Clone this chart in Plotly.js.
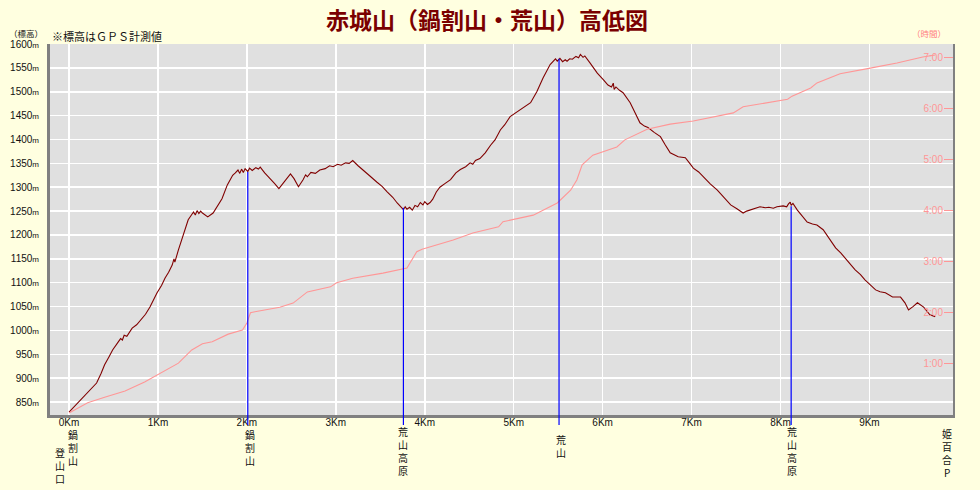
<!DOCTYPE html>
<html><head><meta charset="utf-8">
<script src="https://cdn.plot.ly/plotly-3.0.1.min.js"></script>
<style>html,body{margin:0;padding:0;background:#FFFFE0;} #chart{width:980px;height:490px;}</style>
</head><body><div id="chart"></div>
<script>
// elevation profile (distance km, elevation m)
const distKm = [
0.00,0.10,0.20,0.31,0.36,0.40,0.45,0.49,0.55,0.58,
0.60,0.62,0.65,0.68,0.71,0.76,0.82,0.86,0.91,0.99,
1.04,1.08,1.12,1.16,1.18,1.19,1.23,1.28,1.34,1.38,
1.40,1.42,1.44,1.46,1.48,1.50,1.56,1.62,1.66,1.72,
1.78,1.84,1.87,1.90,1.92,1.94,1.96,1.98,2.01,2.03,
2.06,2.10,2.13,2.15,2.20,2.26,2.31,2.36,2.42,2.49,
2.53,2.58,2.63,2.66,2.68,2.72,2.77,2.82,2.88,2.93,
2.97,3.02,3.06,3.11,3.15,3.19,3.25,3.31,3.38,3.46,
3.52,3.58,3.64,3.69,3.73,3.76,3.78,3.80,3.83,3.86,
3.89,3.92,3.95,3.98,4.00,4.03,4.06,4.09,4.13,4.17,
4.23,4.29,4.35,4.40,4.46,4.51,4.54,4.57,4.62,4.65,
4.68,4.74,4.79,4.85,4.90,4.96,5.07,5.13,5.19,5.26,
5.33,5.41,5.45,5.47,5.49,5.52,5.55,5.58,5.60,5.63,
5.66,5.70,5.73,5.75,5.78,5.80,5.86,5.94,6.01,6.06,
6.10,6.12,6.13,6.15,6.19,6.23,6.31,6.36,6.42,6.47,
6.51,6.58,6.65,6.70,6.76,6.85,6.93,6.98,7.02,7.08,
7.13,7.21,7.29,7.37,7.44,7.51,7.58,7.62,7.66,7.72,
7.77,7.83,7.87,7.92,7.96,8.03,8.07,8.09,8.11,8.12,
8.14,8.19,8.25,8.30,8.36,8.41,8.48,8.55,8.62,8.68,
8.73,8.78,8.84,8.90,8.95,9.01,9.07,9.12,9.18,9.26,
9.35,9.40,9.44,9.49,9.54,9.61,9.68,9.74];
const elevM = [
829,848,869,890,910,928,945,959,975,983,
980,990,988,996,1005,1012,1026,1034,1049,1079,
1094,1110,1122,1137,1150,1143,1169,1200,1232,1243,
1248,1242,1251,1245,1250,1246,1238,1246,1259,1276,
1305,1325,1330,1336,1329,1338,1331,1339,1333,1340,
1335,1341,1338,1342,1330,1319,1308,1297,1312,1328,
1318,1301,1315,1326,1322,1331,1329,1336,1339,1345,
1343,1348,1346,1351,1350,1356,1345,1336,1324,1311,
1302,1290,1279,1267,1259,1253,1259,1254,1258,1252,
1262,1259,1268,1263,1270,1264,1268,1275,1290,1300,
1308,1316,1330,1337,1343,1351,1348,1356,1360,1366,
1372,1388,1399,1420,1431,1448,1462,1470,1477,1500,
1529,1557,1566,1569,1564,1570,1563,1567,1564,1569,
1568,1574,1571,1578,1572,1575,1560,1539,1525,1514,
1510,1518,1505,1510,1503,1498,1477,1458,1435,1428,
1425,1415,1406,1390,1372,1364,1362,1350,1340,1332,
1322,1307,1294,1277,1263,1255,1246,1250,1252,1256,
1259,1257,1258,1256,1259,1261,1259,1265,1269,1262,
1266,1252,1238,1227,1223,1221,1211,1192,1173,1162,
1152,1140,1127,1117,1106,1096,1085,1081,1079,1070,
1070,1058,1043,1050,1058,1049,1033,1029];
// elapsed time (distance km, hours)
const timeKm = [0.00,0.21,0.40,0.63,0.85,1.00,1.23,1.38,1.50,1.61,1.79,1.95,2.00,2.04,2.09,2.37,2.52,2.68,2.94,3.01,3.19,3.53,3.80,3.91,3.97,4.32,4.54,4.83,4.88,5.22,5.49,5.64,5.71,5.77,5.89,6.16,6.25,6.50,6.76,7.02,7.47,7.58,8.08,8.13,8.34,8.41,8.67,9.01,9.31,9.60,9.74];
const timeH = [0.02,0.22,0.33,0.45,0.63,0.77,1.00,1.26,1.38,1.42,1.57,1.65,1.79,1.99,2.01,2.10,2.18,2.40,2.50,2.58,2.67,2.77,2.87,3.19,3.24,3.42,3.56,3.68,3.78,3.91,4.15,4.40,4.60,4.90,5.09,5.25,5.39,5.60,5.70,5.76,5.92,6.04,6.19,6.25,6.41,6.51,6.69,6.80,6.90,7.02,7.06];
// way points
const pointKm = [2.01, 3.76, 5.51, 8.12];
const pointElev = [1332, 1257, 1569, 1260];
const labelText = ["鍋割山","登山口","鍋割山","荒山高原","荒山","荒山高原","姫百合P"];
const labelKm = [0.045, -0.10, 2.03, 3.76, 5.53, 8.13, 9.87];
// axis ticks
const xTickVals = [0,1,2,3,4,5,6,7,8,9];
const xTickText = ["0Km","1Km","2Km","3Km","4Km","5Km","6Km","7Km","8Km","9Km"];
const yTickVals = [850,900,950,1000,1050,1100,1150,1200,1250,1300,1350,1400,1450,1500,1550,1600];
const y2TickVals = [1,2,3,4,5,6,7];
const y2TickText = ["1:00","2:00","3:00","4:00","5:00","6:00","7:00"];

// styling: px below axis of the first character centre of each label column
const labelFirstPx = [19, 37, 19, 16, 24, 16, 18];
const charStep = 13;
const JP = "Noto Sans CJK JP";
const LBL = 10;

const traces = [
  {x: timeKm, y: timeH, yaxis: 'y2', type: 'scatter', mode: 'lines',
   line: {color: '#FF9696', width: 1.1}, hoverinfo: 'skip'},
  {x: distKm, y: elevM, type: 'scatter', mode: 'lines',
   line: {color: '#800000', width: 1.1}, hoverinfo: 'skip'}
];

const shapes = [];
pointKm.forEach((k, i) => {
  shapes.push({type: 'line', xref: 'x', yref: 'y', x0: k, x1: k, y0: 800, y1: pointElev[i],
    line: {color: '#0000FF', width: 1.2}, layer: 'above'});
  shapes.push({type: 'line', xref: 'x', yref: 'paper', x0: k, x1: k, y0: 0, y1: -0.027,
    line: {color: '#0000FF', width: 1.2}, layer: 'above'});
});

const annotations = [];
labelText.forEach((txt, j) => {
  Array.from(txt).forEach((ch, i) => {
    annotations.push({xref: 'x', yref: 'paper', x: labelKm[j], y: 0, xanchor: 'center', yanchor: 'middle',
      yshift: -(labelFirstPx[j] + i * charStep), showarrow: false, borderpad: 0, text: ch,
      font: {family: JP, size: LBL, color: '#111'}});
  });
});
annotations.push({xref: 'paper', yref: 'paper', x: 0, y: 1, xanchor: 'left', yanchor: 'bottom', yshift: -2,
  showarrow: false, text: '※標高はＧＰＳ計測値', font: {family: JP, size: 11, color: '#111'}});
annotations.push({xref: 'paper', yref: 'paper', x: -0.005, y: 1, xanchor: 'right', yanchor: 'bottom', yshift: 3,
  showarrow: false, text: '（標高）', font: {family: JP, size: 8.5, color: '#111'}});
annotations.push({xref: 'paper', yref: 'paper', x: 0.995, y: 1, xanchor: 'right', yanchor: 'bottom', yshift: 3,
  showarrow: false, text: '（時間）', font: {family: JP, size: 8.5, color: '#FF8080'}});

const layout = {
  width: 980, height: 490,
  margin: {l: 50, r: 27, t: 44, b: 75},
  paper_bgcolor: '#FFFFE0', plot_bgcolor: '#E0E0E0',
  showlegend: false,
  title: {text: '赤城山（鍋割山・荒山）高低図', x: 0.497, xanchor: 'center', y: 0.958, yanchor: 'middle',
    font: {family: JP, size: 23, color: '#7A0000', weight: 'bold'}},
  xaxis: {range: [-0.214, 9.94], tickvals: xTickVals, ticktext: xTickText, showgrid: true,
    gridcolor: '#FFFFFF', gridwidth: 1.5, zeroline: false, showline: true, linecolor: '#808080', linewidth: 3,
    ticks: '', ticklabelstandoff: -4, tickfont: {family: 'Liberation Sans', size: 10, color: '#111'}, fixedrange: true},
  yaxis: {range: [823, 1600], tickvals: yTickVals,
    ticktext: yTickVals.map(v => v + '<span style="font-size:8px">m</span>'),
    showgrid: true, gridcolor: '#FFFFFF', gridwidth: 1.5, zeroline: false, showline: true,
    linecolor: '#808080', linewidth: 3, ticks: '', ticklabelstandoff: 6,
    tickfont: {family: 'Liberation Sans', size: 10, color: '#111'}, fixedrange: true},
  yaxis2: {overlaying: 'y', side: 'right', range: [-0.02, 7.275], tickvals: y2TickVals, ticktext: y2TickText,
    showgrid: false, zeroline: false, showline: true, linecolor: '#808080', linewidth: 2,
    ticks: 'inside', ticklen: 9, tickcolor: '#FF9696', tickwidth: 1, ticklabelposition: 'inside',
    tickfont: {family: 'Liberation Sans', size: 10, color: '#FF9696'}, fixedrange: true},
  shapes: shapes,
  annotations: annotations
};

Plotly.newPlot('chart', traces, layout, {displayModeBar: false, staticPlot: true});
</script>
</body></html>
